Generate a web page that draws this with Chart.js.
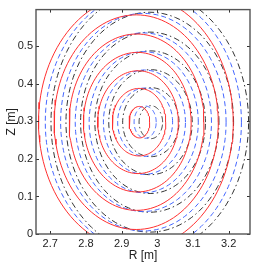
<!DOCTYPE html>
<html>
<head>
<meta charset="utf-8">
<script src="https://cdn.jsdelivr.net/npm/chart.js@4.4.1/dist/chart.umd.min.js"></script>
<style>
html,body{margin:0;padding:0;background:#fff}
canvas{display:block}
</style>
</head>
<body>
<canvas id="fluxChart" width="254" height="264"></canvas>
<script>

// axis ticks
const xTicks=[2.7,2.8,2.9,3,3.1,3.2];
const yTicks=[0,0.1,0.2,0.3,0.4,0.5];

// flux surfaces, inner to outer
// centre R, centre Z, half width (R), half height (Z)
const redR0=[2.950,2.949,2.946,2.944,2.942,2.941,2.940];
const redZ0=[0.298,0.298,0.298,0.298,0.298,0.298,0.298];
const redA=[0.029,0.075,0.113,0.151,0.189,0.230,0.273];
const redB=[0.042,0.090,0.137,0.186,0.235,0.286,0.338];

const blueR0=[2.966,2.966,2.964,2.962,2.961,2.961,2.961];
const blueZ0=[0.298,0.298,0.298,0.298,0.298,0.298,0.298];
const blueA=[0.031,0.077,0.115,0.153,0.191,0.232,0.275];
const blueB=[0.043,0.091,0.139,0.188,0.238,0.290,0.344];

const blackR0=[2.982,2.982,2.981,2.980,2.979,2.979,2.979];
const blackZ0=[0.298,0.298,0.298,0.298,0.298,0.298,0.298];
const blackA=[0.033,0.079,0.117,0.155,0.194,0.235,0.277];
const blackB=[0.044,0.092,0.140,0.190,0.240,0.293,0.347];

function surface(r0,z0,a,b){
let pts=[];
let n=120;
for(let k=0;k<=n;k++){
let t=2*Math.PI*k/n;
pts.push({x:r0+a*Math.cos(t),y:z0+b*Math.sin(t)});
}
return pts;
}

let datasets=[];

function addSet(R0,Z0,A,B,color,dash){
R0.forEach((r,i)=>{
datasets.push({
data:surface(r,Z0[i],A[i],B[i]),
showLine:true,
pointRadius:0,
borderColor:color,
borderWidth:1,
borderDash:dash,
fill:false,
tension:0,
clip:0
});
});
}

addSet(redR0,redZ0,redA,redB,"#ff3030",[]);
addSet(blueR0,blueZ0,blueA,blueB,"#4466ff",[5,3]);
addSet(blackR0,blackZ0,blackA,blackB,"#333333",[6,3,1.5,3]);

// matlab style box with inward ticks
const boxTicks={
id:"boxTicks",
afterDraw(chart){
const ctx=chart.ctx;
const a=chart.chartArea;
const xs=chart.scales.x;
const ys=chart.scales.y;
ctx.save();
ctx.strokeStyle="#333";
ctx.lineWidth=1;
ctx.beginPath();
xTicks.forEach(v=>{
let px=Math.round(xs.getPixelForValue(v))+0.5;
ctx.moveTo(px,a.bottom);ctx.lineTo(px,a.bottom-3);
ctx.moveTo(px,a.top);ctx.lineTo(px,a.top+3);
});
yTicks.forEach(v=>{
let py=Math.round(ys.getPixelForValue(v))+0.5;
ctx.moveTo(a.left,py);ctx.lineTo(a.left+3,py);
ctx.moveTo(a.right,py);ctx.lineTo(a.right-3,py);
});
ctx.stroke();
ctx.strokeStyle="#555";
ctx.lineWidth=1.4;
ctx.strokeRect(a.left,a.top,a.right-a.left,a.bottom-a.top);
ctx.restore();
}
};

new Chart(document.getElementById("fluxChart"),{
type:"scatter",
data:{datasets:datasets},
options:{
responsive:false,
animation:false,
devicePixelRatio:1,
events:[],
layout:{padding:{top:9,right:4,left:0,bottom:0}},
plugins:{legend:{display:false},tooltip:{enabled:false}},
elements:{line:{capBezierPoints:false}},
scales:{
x:{
type:"linear",
min:2.66,
max:3.26,
afterBuildTicks:s=>{s.ticks=xTicks.map(v=>({value:v}));},
afterFit:s=>{s.height=30;},
grid:{display:false,drawTicks:false},
border:{display:false},
ticks:{
padding:3,
color:"#222",
font:{family:"Liberation Sans",size:11},
maxRotation:0,
callback:v=>String(v)
},
title:{
display:true,
text:"R [m]",
color:"#222",
font:{family:"Liberation Sans",size:12},
padding:{top:0,bottom:1}
}
},
y:{
type:"linear",
min:0,
max:0.598,
afterBuildTicks:s=>{s.ticks=yTicks.map(v=>({value:v}));},
afterFit:s=>{s.width=36;},
grid:{display:false,drawTicks:false},
border:{display:false},
ticks:{
padding:3,
color:"#222",
font:{family:"Liberation Sans",size:11},
callback:v=>String(v)
},
title:{
display:true,
text:"Z [m]",
color:"#222",
font:{family:"Liberation Sans",size:12},
padding:{top:4,bottom:0}
}
}
}
},
plugins:[boxTicks]
});

</script>
</body>
</html>
